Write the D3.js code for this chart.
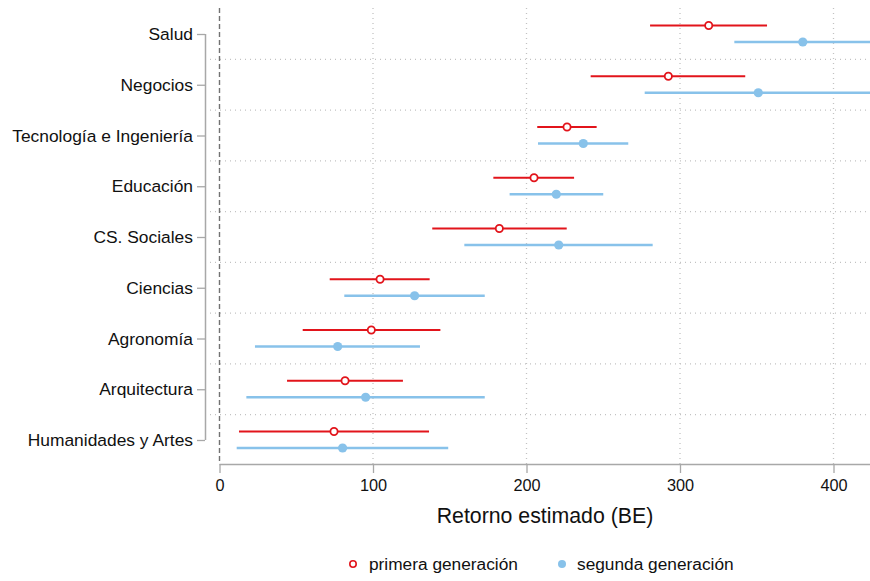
<!DOCTYPE html>
<html>
<head>
<meta charset="utf-8">
<script src="https://cdn.jsdelivr.net/npm/d3@7"></script>
<style>
  html, body { margin: 0; padding: 0; background: #fff; }
  svg { display: block; font-family: "Liberation Sans", Arial, Helvetica, sans-serif; }
</style>
</head>
<body>
<svg id="chart" width="870" height="581"></svg>
<script>
// Fields of study, top to bottom
const categories = ["Salud", "Negocios", "Tecnología e Ingeniería", "Educación", "CS. Sociales",
  "Ciencias", "Agronomía", "Arquitectura", "Humanidades y Artes"];

// Primera generación: point estimate and 95% CI
const primeraEst = [318.7, 292.4, 226.4, 204.9, 182.3, 104.6, 98.9, 81.8, 74.6];
const primeraLow = [280.5, 241.8, 207.0, 178.4, 138.6, 71.8, 54.2, 44.0, 12.7];
const primeraHigh = [356.7, 342.5, 245.7, 231.0, 226.2, 136.9, 143.9, 119.5, 136.5];

// Segunda generación: point estimate and 95% CI
const segundaEst = [380.0, 351.0, 237.0, 219.4, 221.0, 127.1, 77.0, 95.2, 80.2];
const segundaLow = [335.4, 277.0, 207.5, 189.0, 159.5, 81.3, 23.1, 17.5, 11.2];
const segundaHigh = [470.0, 455.0, 266.3, 250.0, 282.2, 172.8, 130.6, 172.8, 149.0];

const xTicks = [0, 100, 200, 300, 400];
const seriesNames = ["primera generación", "segunda generación"];

const RED = "#e2141b";
const BLUE = "#88c2ea";

const svg = d3.select("#chart");
const plotTop = 8, plotBottom = 464, plotLeft = 210, plotRight = 870;

const x = d3.scaleLinear().domain([0, 400]).range([219.5, 833.5]);
const y = d3.scalePoint().domain(categories).range([34, 440]);
const step = y.step();

// clip region for the plot panel
svg.append("defs").append("clipPath").attr("id", "panel")
  .append("rect").attr("x", plotLeft).attr("y", plotTop)
  .attr("width", plotRight - plotLeft).attr("height", plotBottom - plotTop);

// vertical dotted gridlines
svg.append("g").selectAll("line").data(xTicks.filter(d => d > 0)).join("line")
  .attr("x1", d => x(d)).attr("x2", d => x(d))
  .attr("y1", plotTop).attr("y2", plotBottom)
  .attr("stroke", "#c2c2c2").attr("stroke-width", 1.3)
  .attr("stroke-dasharray", "1,4");

// horizontal dotted separators between categories
svg.append("g").selectAll("line").data(categories.slice(0, -1)).join("line")
  .attr("x1", plotLeft).attr("x2", plotRight)
  .attr("y1", d => y(d) + step / 2).attr("y2", d => y(d) + step / 2)
  .attr("stroke", "#c2c2c2").attr("stroke-width", 1.3)
  .attr("stroke-dasharray", "1,4");

// reference line at zero
svg.append("line")
  .attr("x1", x(0)).attr("x2", x(0))
  .attr("y1", plotTop).attr("y2", plotBottom)
  .attr("stroke", "#727272").attr("stroke-width", 1.4)
  .attr("stroke-dasharray", "5,3");

// series data rows
const rows = categories.map((c, i) => ({
  cat: c,
  p: { est: primeraEst[i], lo: primeraLow[i], hi: primeraHigh[i] },
  s: { est: segundaEst[i], lo: segundaLow[i], hi: segundaHigh[i] }
}));

const marks = svg.append("g").attr("clip-path", "url(#panel)");
const offP = -8.5, offS = 8;

// confidence intervals
marks.selectAll("line.ciS").data(rows).join("line").attr("class", "ciS")
  .attr("x1", d => x(d.s.lo)).attr("x2", d => x(d.s.hi))
  .attr("y1", d => y(d.cat) + offS).attr("y2", d => y(d.cat) + offS)
  .attr("stroke", BLUE).attr("stroke-width", 2.4);
marks.selectAll("line.ciP").data(rows).join("line").attr("class", "ciP")
  .attr("x1", d => x(d.p.lo)).attr("x2", d => x(d.p.hi))
  .attr("y1", d => y(d.cat) + offP).attr("y2", d => y(d.cat) + offP)
  .attr("stroke", RED).attr("stroke-width", 2.2);

// point estimates
marks.selectAll("circle.ptS").data(rows).join("circle").attr("class", "ptS")
  .attr("cx", d => x(d.s.est)).attr("cy", d => y(d.cat) + offS)
  .attr("r", 4.6).attr("fill", BLUE);
marks.selectAll("circle.ptP").data(rows).join("circle").attr("class", "ptP")
  .attr("cx", d => x(d.p.est)).attr("cy", d => y(d.cat) + offP)
  .attr("r", 3.6).attr("fill", "#fff").attr("stroke", RED).attr("stroke-width", 1.8);

// x axis
const xAxis = svg.append("g").attr("transform", `translate(0,${plotBottom})`)
  .call(d3.axisBottom(x).tickValues(xTicks).tickSize(9).tickPadding(6));
xAxis.select(".domain").attr("d", `M${x(0)},0.5H${plotRight}`)
  .attr("stroke", "#a8a8a8").attr("stroke-width", 1.5);
xAxis.selectAll(".tick line").attr("stroke", "#a8a8a8").attr("stroke-width", 1.3);
xAxis.selectAll(".tick text").attr("font-size", 16.3).attr("fill", "#111")
  .attr("font-family", "Liberation Sans, Arial, sans-serif");

// y axis
const yAxis = svg.append("g").attr("transform", "translate(205,0)")
  .call(d3.axisLeft(y).tickSize(8).tickPadding(4));
yAxis.select(".domain").attr("d", `M0.5,${y(categories[0])}V${y(categories[categories.length - 1])}`)
  .attr("stroke", "#a8a8a8").attr("stroke-width", 1.5);
yAxis.selectAll(".tick line").attr("stroke", "#a8a8a8").attr("stroke-width", 1.3);
yAxis.selectAll(".tick text").attr("font-size", 17.4).attr("fill", "#111")
  .attr("font-family", "Liberation Sans, Arial, sans-serif");

// axis title
svg.append("text").attr("x", 545).attr("y", 523).attr("text-anchor", "middle")
  .attr("font-size", 21.3).attr("fill", "#111").text("Retorno estimado (BE)");

// legend
const legend = svg.append("g");
legend.append("circle").attr("cx", 353).attr("cy", 564).attr("r", 3.2)
  .attr("fill", "#fff").attr("stroke", RED).attr("stroke-width", 1.6);
legend.append("text").attr("x", 369).attr("y", 570).attr("font-size", 17.3)
  .attr("fill", "#111").text(seriesNames[0]);
legend.append("circle").attr("cx", 562).attr("cy", 564).attr("r", 4)
  .attr("fill", BLUE);
legend.append("text").attr("x", 577).attr("y", 570).attr("font-size", 17.3)
  .attr("fill", "#111").text(seriesNames[1]);
</script>
</body>
</html>
